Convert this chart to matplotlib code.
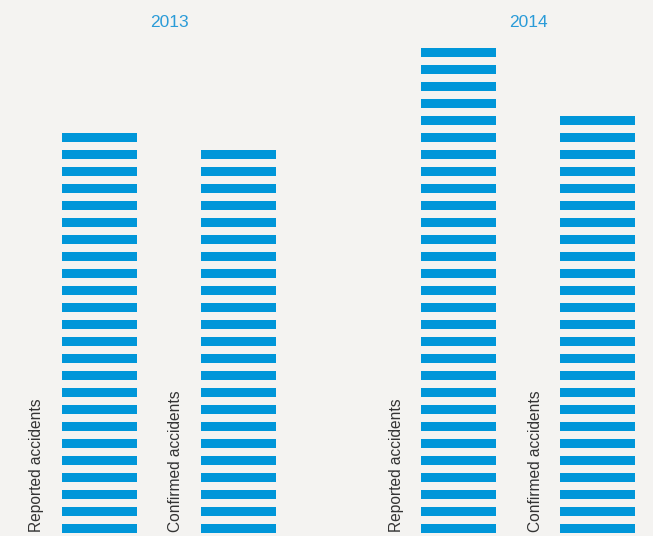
import numpy as np
import matplotlib
matplotlib.use("Agg")
import matplotlib.pyplot as plt

# Datos: número de franjas (unidades) en cada columna
anios = ["2013", "2014"]
categorias = ["Reported accidents", "Confirmed accidents"]
reportados = [24, 29]
confirmados = [23, 25]

azul = "#0096d9"
fondo = "#f4f3f1"

fig = plt.figure(figsize=(6.53, 5.36), dpi=100)
fig.patch.set_facecolor(fondo)
ax = fig.add_axes([0, 0, 1, 1])
ax.set_facecolor(fondo)
ax.set_xlim(0, 653)
ax.set_ylim(-3 / 17, 536 / 17 - 3 / 17)
ax.axis("off")

# Posiciones (en píxeles) de las columnas
centros = [[99.5, 238.5], [458.5, 597.5]]
ancho = 75
alto_franja = 9 / 17

fuente = ["Liberation Sans", "DejaVu Sans"]

for g, anio in enumerate(anios):
  valores = [reportados[g], confirmados[g]]
  for j, n in enumerate(valores):
    x = centros[g][j]
    ax.bar(np.full(n, x), alto_franja, bottom=np.arange(n), width=ancho,
           color=azul, align="center")
    ax.text(x - ancho / 2 - 25, 0.06, categorias[j], rotation=90,
            ha="center", va="bottom", fontsize=11.2, color="#333333",
            family=fuente)
  ax.text(np.mean(centros[g]), (533 - 27) / 17, anio, ha="center", va="baseline",
          fontsize=12.5, color="#2a9bd8", family=fuente)

plt.savefig("out.png", dpi=100, facecolor=fondo)
